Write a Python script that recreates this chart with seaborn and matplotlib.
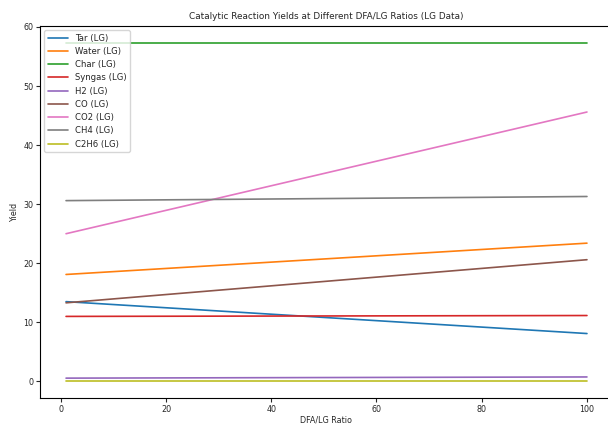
import matplotlib

matplotlib.use("Agg")
import matplotlib.pyplot as plt  # noqa: E402
import pandas as pd  # noqa: E402
import seaborn as sns  # noqa: E402

# DFA/LG ratio points
ratios = [1, 100]

# yields at each ratio
tar = [13.5, 8.1]
water = [18.1, 23.4]
char = [57.3, 57.3]
syngas = [11.0, 11.15]
h2 = [0.55, 0.75]
co = [13.3, 20.6]
co2 = [25.0, 45.6]
ch4 = [30.6, 31.3]
c2h6 = [0.05, 0.05]

labels = ["Tar (LG)", "Water (LG)", "Char (LG)", "Syngas (LG)", "H2 (LG)",
          "CO (LG)", "CO2 (LG)", "CH4 (LG)", "C2H6 (LG)"]
series = [tar, water, char, syngas, h2, co, co2, ch4, c2h6]

rows = []
for label, vals in zip(labels, series):
    for r, v in zip(ratios, vals):
        rows.append({"DFA/LG Ratio": r, "Yield": v, "Product": label})
df = pd.DataFrame(rows)

sns.set_style("ticks", {"axes.edgecolor": "black"})
plt.rcParams["font.family"] = ["DejaVu Sans"]

fig = plt.figure(figsize=(6.08, 4.24), dpi=100)
# the reference is cropped on the right, so the axes run past the edge
ax = fig.add_axes([40 / 608, 1 - 398 / 424, 573 / 608, 372 / 424])
sns.lineplot(data=df, x="DFA/LG Ratio", y="Yield", hue="Product",
             hue_order=labels, palette="tab10", linewidth=1.2, ax=ax)

ax.set_title("Catalytic Reaction Yields at Different DFA/LG Ratios (LG Data)",
             fontsize=6.4, pad=5)
ax.set_xlabel("DFA/LG Ratio", fontsize=5.8, labelpad=1)
ax.set_ylabel("Yield", fontsize=5.8, labelpad=3)
ax.tick_params(labelsize=5.8, length=3, width=0.8, pad=1.8)
for s in ax.spines.values():
    s.set_linewidth(0.8)
    s.set_visible(True)
ax.legend(loc="upper left", fontsize=6.1, frameon=True, edgecolor="#cccccc",
          handlelength=2.4, borderaxespad=0.5)

fig.savefig("out.png", dpi=100)
